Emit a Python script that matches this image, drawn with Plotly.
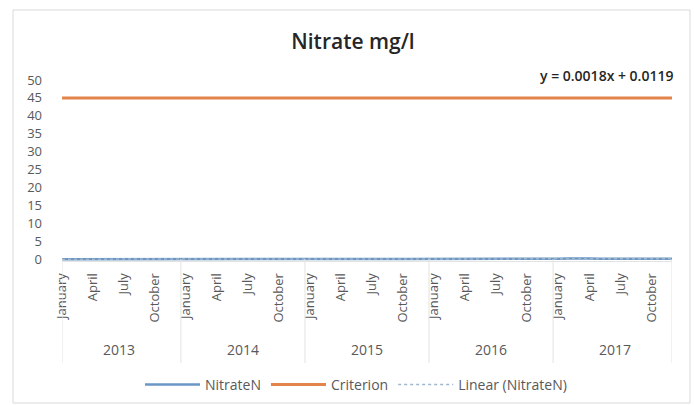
import plotly.graph_objects as go

# Monthly nitrate readings (mg/l), January 2013 - December 2017
years = ["2013", "2014", "2015", "2016", "2017"]
months = ["January", "February", "March", "April", "May", "June", "July",
          "August", "September", "October", "November", "December"]
label_months = ["January", "April", "July", "October"]

nitrate_2013 = [0.02, 0.01, 0.03, 0.02, 0.01, 0.00, 0.02, 0.03, 0.01, 0.02, 0.04, 0.03]
nitrate_2014 = [0.03, 0.02, 0.05, 0.04, 0.02, 0.03, 0.05, 0.04, 0.03, 0.06, 0.04, 0.05]
nitrate_2015 = [0.05, 0.06, 0.04, 0.07, 0.05, 0.06, 0.08, 0.06, 0.05, 0.07, 0.06, 0.08]
nitrate_2016 = [0.07, 0.08, 0.06, 0.09, 0.08, 0.07, 0.09, 0.10, 0.08, 0.09, 0.11, 0.10]
nitrate_2017 = [0.12, 0.22, 0.28, 0.18, 0.10, 0.11, 0.12, 0.10, 0.11, 0.13, 0.12, 0.11]

criterion_value = 45
trend_slope = 0.0018
trend_intercept = 0.0119

y_ticks = [0, 5, 10, 15, 20, 25, 30, 35, 40, 45, 50]

# ---- derived series ----
nitrate = nitrate_2013 + nitrate_2014 + nitrate_2015 + nitrate_2016 + nitrate_2017
n = len(nitrate)
idx = list(range(1, n + 1))
criterion = [criterion_value] * n
trend = [trend_slope * i + trend_intercept for i in idx]
equation = f"y = {trend_slope}x + {trend_intercept}"

tick_vals = [i for i in idx if months[(i - 1) % 12] in label_months]
tick_text = [months[(i - 1) % 12] for i in tick_vals]

# ---- page geometry (pixels) ----
W, H = 695, 405
L, R, T, B = 62, 23, 80, 144
PW, PH = W - L - R, H - T - B


def px_x(p):
    return (p - L) / PW


def px_y(p):
    return (H - B - p) / PH


FONT = "Open Sans"
GREY = "#595959"
BLUE = "#6a97c6"
ORANGE = "#e3844a"

fig = go.Figure()
fig.add_trace(go.Scatter(x=idx, y=nitrate, mode="lines", name="NitrateN",
                         line=dict(color=BLUE, width=2.5)))
fig.add_trace(go.Scatter(x=idx, y=criterion, mode="lines", name="Criterion",
                         line=dict(color=ORANGE, width=3)))
fig.add_trace(go.Scatter(x=idx, y=trend, mode="lines", name="Linear (NitrateN)",
                         line=dict(color="#9fb6cf", width=1.5, dash="dot")))

shapes = []
# outer chart frame
shapes.append(dict(type="rect", xref="paper", yref="paper",
                   x0=px_x(13), x1=px_x(690), y0=px_y(403), y1=px_y(10),
                   line=dict(color="#d9d9d9", width=1), layer="below"))
# year group dividers under the category axis
dividers = [1] + [12 * k + 0.5 for k in range(1, len(years))] + [n]
for d in dividers:
    shapes.append(dict(type="line", xref="x", yref="paper",
                       x0=d, x1=d, y0=px_y(259), y1=px_y(363),
                       line=dict(color="#e3e3e3", width=1)))

annotations = []
for k, yr in enumerate(years):
    annotations.append(dict(x=12 * k + 6.5, xref="x", y=px_y(349), yref="paper",
                            text=yr, showarrow=False,
                            font=dict(family=FONT, size=14, color=GREY),
                            xanchor="center", yanchor="middle"))
annotations.append(dict(x=px_x(675), xref="paper", y=px_y(75), yref="paper",
                        text=equation, showarrow=False,
                        font=dict(family=FONT, size=14, color="#262626", weight=600),
                        xanchor="right", yanchor="middle"))

fig.update_layout(
    width=W, height=H,
    margin=dict(l=L, r=R, t=T, b=B),
    paper_bgcolor="white", plot_bgcolor="white",
    title=dict(text="Nitrate mg/l", x=353 / W, xref="container", xanchor="center",
               y=1 - 42 / H, yref="container", yanchor="middle",
               font=dict(family=FONT, size=21, color="#262626", weight=600)),
    xaxis=dict(range=[1, n], tickmode="array", tickvals=tick_vals, ticktext=tick_text,
               tickangle=-90, ticks="", showgrid=False, zeroline=False,
               showline=True, linecolor="#e3e3e3", ticklabelstandoff=6,
               tickfont=dict(family=FONT, size=13, color=GREY)),
    yaxis=dict(range=[-0.5, 50], tickmode="array", tickvals=y_ticks,
               ticks="", showgrid=False, zeroline=False, showline=False,
               ticklabelstandoff=19,
               tickfont=dict(family=FONT, size=13, color=GREY)),
    legend=dict(orientation="h", xref="container", x=356 / W, xanchor="center",
                yref="container", y=1 - 385 / H, yanchor="middle",
                itemwidth=55, font=dict(family=FONT, size=14, color=GREY),
                traceorder="normal"),
    shapes=shapes,
    annotations=annotations,
)

fig.write_html("out.html")
